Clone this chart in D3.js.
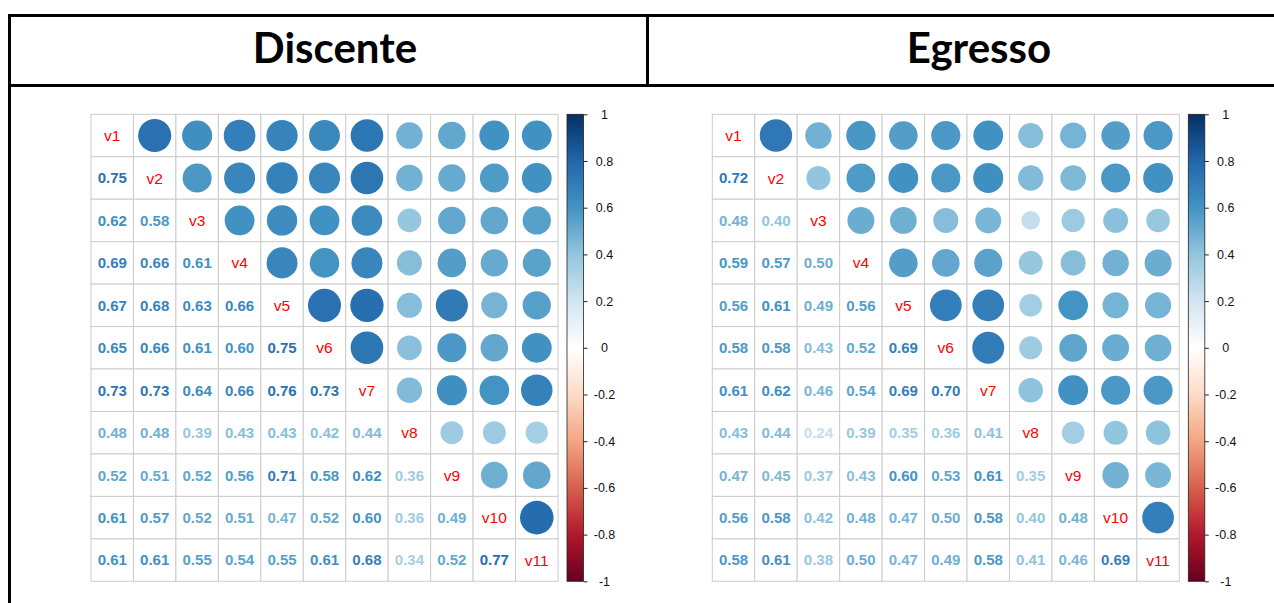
<!DOCTYPE html>
<html>
<head>
<meta charset="utf-8">
<script src="https://cdn.jsdelivr.net/npm/d3@7"></script>
<style>
  html, body { margin: 0; padding: 0; background: #fff; }
  svg { display: block; }
</style>
</head>
<body>
<svg id="chart" width="1274" height="603"></svg>
<script>
// Variables shown on both matrices
const variables = ["v1", "v2", "v3", "v4", "v5", "v6", "v7", "v8", "v9", "v10", "v11"];

// Panel titles
const panelTitles = ["Discente", "Egresso"];

// Lower-triangle correlations (row i holds r(v_i+1, v_1..v_i))
const discenteLower = [
  [0.75],
  [0.62, 0.58],
  [0.69, 0.66, 0.61],
  [0.67, 0.68, 0.63, 0.66],
  [0.65, 0.66, 0.61, 0.60, 0.75],
  [0.73, 0.73, 0.64, 0.66, 0.76, 0.73],
  [0.48, 0.48, 0.39, 0.43, 0.43, 0.42, 0.44],
  [0.52, 0.51, 0.52, 0.56, 0.71, 0.58, 0.62, 0.36],
  [0.61, 0.57, 0.52, 0.51, 0.47, 0.52, 0.60, 0.36, 0.49],
  [0.61, 0.61, 0.55, 0.54, 0.55, 0.61, 0.68, 0.34, 0.52, 0.77]
];

const egressoLower = [
  [0.72],
  [0.48, 0.40],
  [0.59, 0.57, 0.50],
  [0.56, 0.61, 0.49, 0.56],
  [0.58, 0.58, 0.43, 0.52, 0.69],
  [0.61, 0.62, 0.46, 0.54, 0.69, 0.70],
  [0.43, 0.44, 0.24, 0.39, 0.35, 0.36, 0.41],
  [0.47, 0.45, 0.37, 0.43, 0.60, 0.53, 0.61, 0.35],
  [0.56, 0.58, 0.42, 0.48, 0.47, 0.50, 0.58, 0.40, 0.48],
  [0.58, 0.61, 0.38, 0.50, 0.47, 0.49, 0.58, 0.41, 0.46, 0.69]
];

// Colour legend ticks
const legendTicks = [1, 0.8, 0.6, 0.4, 0.2, 0, -0.2, -0.4, -0.6, -0.8, -1];

// Red-white-blue diverging palette
const paletteColors = ["#67001F", "#B2182B", "#D6604D", "#F4A582", "#FDDBC7", "#FFFFFF",
                       "#D1E5F0", "#92C5DE", "#4393C3", "#2166AC", "#053061"];

const color = d3.scaleLinear()
  .domain(d3.range(paletteColors.length).map(i => -1 + 2 * i / (paletteColors.length - 1)))
  .range(paletteColors)
  .interpolate(d3.interpolateRgb);

const svg = d3.select("#chart");

// ---- Table frame with the two header cells ----
const frame = svg.append("g").attr("stroke", "#000").attr("stroke-width", 3).attr("fill", "none");
frame.append("line").attr("x1", 8).attr("x2", 1300).attr("y1", 15.5).attr("y2", 15.5);
frame.append("line").attr("x1", 8).attr("x2", 1300).attr("y1", 85.5).attr("y2", 85.5);
frame.append("line").attr("x1", 9.5).attr("x2", 9.5).attr("y1", 14).attr("y2", 610);
frame.append("line").attr("x1", 647.5).attr("x2", 647.5).attr("y1", 14).attr("y2", 87);

const titleX = [335, 979];
svg.selectAll("text.title")
  .data(panelTitles)
  .join("text")
  .attr("class", "title")
  .attr("x", (d, i) => titleX[i])
  .attr("y", 63)
  .attr("text-anchor", "middle")
  .attr("font-family", "Lato, 'Open Sans', sans-serif")
  .attr("font-weight", 700)
  .attr("font-size", 42)
  .attr("fill", "#000")
  .text(d => d);

// Full symmetric matrix from a lower triangle
function fullMatrix(lower) {
  const n = variables.length;
  const m = [];
  for (let i = 0; i < n; i++) {
    for (let j = 0; j < n; j++) {
      let v;
      if (i === j) v = 1;
      else if (i > j) v = lower[i - 1][j];
      else v = lower[j - 1][i];
      m.push({ row: variables[i], col: variables[j], i, j, value: v });
    }
  }
  return m;
}

function drawPanel(lower, x0, y0) {
  const size = 467;
  const g = svg.append("g");
  const x = d3.scaleBand().domain(variables).range([x0, x0 + size]);
  const y = d3.scaleBand().domain(variables).range([y0, y0 + size]);
  const cw = x.bandwidth();
  const cells = fullMatrix(lower);

  // grid
  g.append("g")
    .selectAll("rect")
    .data(cells)
    .join("rect")
    .attr("x", d => x(d.col))
    .attr("y", d => y(d.row))
    .attr("width", cw)
    .attr("height", y.bandwidth())
    .attr("fill", "#fff")
    .attr("stroke", "#cccccc")
    .attr("stroke-width", 1);

  // upper triangle: circles
  g.append("g")
    .selectAll("circle")
    .data(cells.filter(d => d.j > d.i))
    .join("circle")
    .attr("cx", d => x(d.col) + cw / 2)
    .attr("cy", d => y(d.row) + y.bandwidth() / 2)
    .attr("r", d => 0.45 * Math.sqrt(Math.abs(d.value)) * cw)
    .attr("fill", d => color(d.value));

  // lower triangle: coefficients
  g.append("g")
    .selectAll("text")
    .data(cells.filter(d => d.i > d.j))
    .join("text")
    .attr("x", d => x(d.col) + cw / 2)
    .attr("y", d => y(d.row) + y.bandwidth() / 2)
    .attr("dy", "0.36em")
    .attr("text-anchor", "middle")
    .attr("font-family", "'Liberation Sans', Arial, sans-serif")
    .attr("font-weight", 700)
    .attr("font-size", 15)
    .attr("fill", d => color(d.value))
    .text(d => d.value.toFixed(2));

  // diagonal: variable names
  g.append("g")
    .selectAll("text")
    .data(cells.filter(d => d.i === d.j))
    .join("text")
    .attr("x", d => x(d.col) + cw / 2)
    .attr("y", d => y(d.row) + y.bandwidth() / 2)
    .attr("dy", "0.36em")
    .attr("text-anchor", "middle")
    .attr("font-family", "'Liberation Sans', Arial, sans-serif")
    .attr("font-size", 15.5)
    .attr("fill", "#ff0000")
    .text(d => d.row);

  // colour legend
  const barX = x0 + size + 9;
  const barW = 16.5;
  const ly = d3.scaleLinear().domain([-1, 1]).range([y0 + size, y0]);
  const gradId = "grad" + Math.round(x0);
  const grad = svg.append("defs").append("linearGradient")
    .attr("id", gradId)
    .attr("x1", 0).attr("x2", 0).attr("y1", 1).attr("y2", 0);
  paletteColors.forEach((c, i) => {
    grad.append("stop")
      .attr("offset", i / (paletteColors.length - 1))
      .attr("stop-color", c);
  });
  g.append("rect")
    .attr("x", barX)
    .attr("y", ly(1))
    .attr("width", barW)
    .attr("height", ly(-1) - ly(1))
    .attr("fill", `url(#${gradId})`)
    .attr("stroke", "#222")
    .attr("stroke-width", 0.8);

  const axis = d3.axisRight(ly).tickValues(legendTicks).tickSize(4).tickPadding(0)
    .tickFormat(d => String(d));
  const ag = g.append("g")
    .attr("transform", `translate(${barX + barW},0)`)
    .call(axis);
  ag.select(".domain").remove();
  ag.selectAll(".tick line").attr("stroke", "#222");
  ag.selectAll(".tick text")
    .attr("x", 21)
    .attr("text-anchor", "middle")
    .attr("font-family", "'Liberation Sans', Arial, sans-serif")
    .attr("font-size", 12.5)
    .attr("fill", "#111");
}

drawPanel(discenteLower, 91, 114.3);
drawPanel(egressoLower, 712.3, 114.3);
</script>
</body>
</html>
